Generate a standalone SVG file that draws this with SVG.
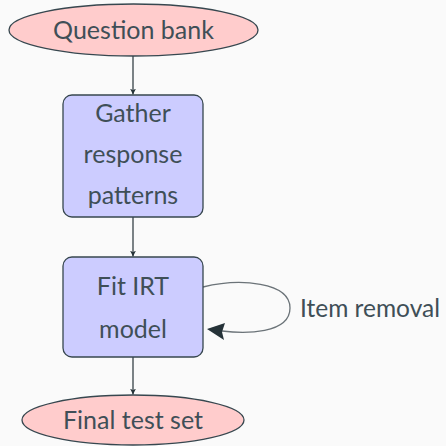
<svg xmlns="http://www.w3.org/2000/svg" width="446" height="446" viewBox="0 0 446 446">
<style>
.bg{fill:#fafafa}
.ell{fill:#ffcccc;stroke:#37474f;stroke-width:1.3}
.box{fill:#ccccff;stroke:#37474f;stroke-width:1.3}
text{font-family:"Lato","Open Sans",sans-serif;font-size:25px;fill:#3f4f57;text-anchor:middle}
.edge{fill:none;stroke:#253238;stroke-width:1.2}
.loop{fill:none;stroke:#6b7378;stroke-width:1.3}
</style>
<defs>
<marker id="ah" viewBox="0 0 10 10" refX="10" refY="5" markerWidth="6" markerHeight="6" markerUnits="userSpaceOnUse" orient="auto">
<path d="M0,0 L10,5 L0,10 L3,5 Z" fill="#253238"/>
</marker>
</defs>
<rect class="bg" width="446" height="446"/>
<g id="edges">
<line class="edge" x1="133" y1="56" x2="133" y2="94.5" marker-end="url(#ah)"/>
<line class="edge" x1="133" y1="217" x2="133" y2="256.5" marker-end="url(#ah)"/>
<line class="edge" x1="133" y1="357" x2="133" y2="394.5" marker-end="url(#ah)"/>
<path class="loop" d="M203,287 C240,278 290,282 290,308 C290,334 245,334 222,331"/>
<path d="M207,329 L225,323 L222,332 L224,340 Z" fill="#253238"/>
<text x="370" y="317" style="font-size:24.5px">Item removal</text>
</g>
<g id="question-bank">
<ellipse class="ell" cx="133.5" cy="30" rx="124.5" ry="26"/>
<text x="133.5" y="39">Question bank</text>
</g>
<g id="gather">
<rect class="box" x="63" y="95" width="140" height="122" rx="9"/>
<text x="133" y="122">Gather</text>
<text x="133" y="163">response</text>
<text x="133" y="204">patterns</text>
</g>
<g id="fit-irt">
<rect class="box" x="63" y="257" width="140" height="100" rx="9"/>
<text x="133" y="295">Fit IRT</text>
<text x="133" y="338">model</text>
</g>
<g id="final-test-set">
<ellipse class="ell" cx="133" cy="420" rx="111" ry="25"/>
<text x="133" y="429">Final test set</text>
</g>
</svg>
